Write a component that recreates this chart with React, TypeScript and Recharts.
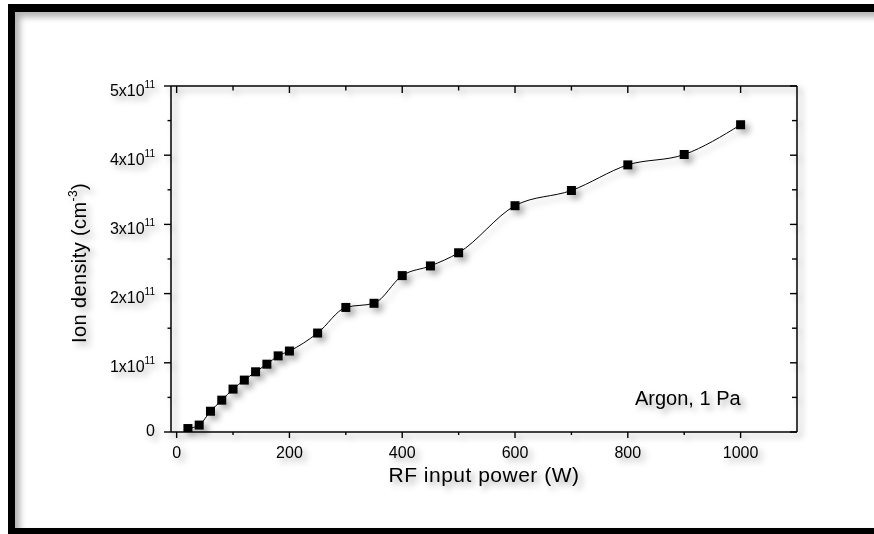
import React from 'react';
import { Line, LineChart, XAxis, YAxis } from 'recharts';

// RF input power (W)
const powerW = [20, 40, 60, 80, 100, 120, 140, 160, 180, 200, 250, 300, 350, 400, 450, 500, 600, 700, 800, 900, 1000];
// ion density, in units of 1x10^11 cm^-3
const ionDensity = [0.05, 0.1, 0.3, 0.46, 0.62, 0.75, 0.87, 0.98, 1.1, 1.17, 1.43, 1.8, 1.86, 2.26, 2.4, 2.59, 3.27, 3.49, 3.86, 4.01, 4.44];

const xTicks = [0, 100, 200, 300, 400, 500, 600, 700, 800, 900, 1000];
const yTicks = [0, 0.5, 1, 1.5, 2, 2.5, 3, 3.5, 4, 4.5, 5];

const FONT = 'Arial, "Liberation Sans", sans-serif';

const data = powerW.map((p, i) => ({ power: p, density: ionDensity[i] }));

const isMajorX = (v: number) => v % 200 === 0;
const isMajorY = (v: number) => Number.isInteger(v);

const BottomTick = (props: any) => {
  const { x, y, payload } = props;
  const major = isMajorX(payload.value);
  return (
    <g>
      <line x1={x} x2={x} y1={y} y2={y + (major ? 6 : 3)} stroke='#000' strokeWidth={1.4} />
      {major && (
        <text x={x} y={y + 26} textAnchor='middle' fontSize={16} fontFamily={FONT} fill='#000'>
          {payload.value}
        </text>
      )}
    </g>
  );
};

const TopTick = (props: any) => {
  const { x, y, payload } = props;
  const major = isMajorX(payload.value);
  return <line x1={x} x2={x} y1={y} y2={y + (major ? 7 : 4.5)} stroke='#000' strokeWidth={1.4} />;
};

const LeftTick = (props: any) => {
  const { x, y, payload } = props;
  const v = payload.value;
  const major = isMajorY(v);
  return (
    <g>
      <line x1={x} x2={x - (major ? 7 : 3.5)} y1={y} y2={y} stroke='#000' strokeWidth={1.4} />
      {major &&
        (v === 0 ? (
          <text x={x - 16} y={y + 4} textAnchor='end' fontSize={16} fontFamily={FONT} fill='#000'>
            0
          </text>
        ) : (
          <text x={x - 16} y={y + 9.5} textAnchor='end' fontSize={16} fontFamily={FONT} fill='#000'>
            {`${v}x10`}
            <tspan dy={-8} fontSize={10}>
              11
            </tspan>
          </text>
        ))}
    </g>
  );
};

const RightTick = (props: any) => {
  const { x, y, payload } = props;
  const major = isMajorY(payload.value);
  return <line x1={x} x2={x - (major ? 7 : 5)} y1={y} y2={y} stroke='#000' strokeWidth={1.4} />;
};

const SquareDot = (props: any) => {
  const { cx, cy, index } = props;
  if (cx == null || cy == null) return null;
  return <rect key={index} x={cx - 4.5} y={cy - 4.5} width={9} height={9} fill='#000' />;
};

const XLabel = (props: any) => {
  const { viewBox } = props;
  return (
    <text
      x={viewBox.x + viewBox.width / 2}
      y={viewBox.y + 50}
      textAnchor='middle'
      fontSize={21}
      letterSpacing={0.5}
      fontFamily={FONT}
      fill='#000'
    >
      RF input power (W)
    </text>
  );
};

const YLabel = (props: any) => {
  const { viewBox } = props;
  const x = viewBox.x + 5;
  const y = viewBox.y + viewBox.height / 2 + 4;
  return (
    <text
      x={x}
      y={y}
      transform={`rotate(-90, ${x}, ${y})`}
      textAnchor='middle'
      fontSize={20}
      letterSpacing={0.4}
      fontFamily={FONT}
      fill='#000'
    >
      Ion density (cm
      <tspan dy={-9} fontSize={12}>
        -3
      </tspan>
      <tspan dy={9}>)</tspan>
    </text>
  );
};

const App = () => {
  return (
    <div
      style={{
        position: 'absolute',
        left: 0,
        top: 0,
        width: 874,
        height: 534,
        overflow: 'hidden',
        background: '#fff',
      }}
    >
      <div
        style={{
          position: 'absolute',
          left: 8,
          top: 4,
          width: 900,
          height: 531,
          boxSizing: 'border-box',
          borderTop: '8px solid #000',
          borderLeft: '7px solid #000',
          borderBottom: '7px solid #000',
          boxShadow: 'inset 5px 5px 6px rgba(0,0,0,0.3)',
        }}
      />
      <div
        style={{
          position: 'absolute',
          left: 0,
          top: 0,
          width: 874,
          height: 534,
          filter: 'drop-shadow(4px 4px 3px rgba(0,0,0,0.35))',
        }}
      >
        <LineChart
          width={874}
          height={534}
          data={data}
          margin={{ top: 85, right: 76, bottom: 52, left: 81 }}
        >
          <XAxis
            dataKey='power'
            type='number'
            domain={[-10, 1100]}
            ticks={xTicks}
            interval={0}
            height={50}
            tickSize={0}
            tickMargin={0}
            tickLine={false}
            axisLine={{ stroke: '#000', strokeWidth: 1.5 }}
            tick={<BottomTick />}
            label={<XLabel />}
            allowDataOverflow
          />
          <XAxis
            xAxisId='top'
            orientation='top'
            dataKey='power'
            type='number'
            domain={[-10, 1100]}
            ticks={xTicks}
            interval={0}
            height={1}
            tickSize={0}
            tickMargin={0}
            tickLine={false}
            axisLine={{ stroke: '#000', strokeWidth: 1.5 }}
            tick={<TopTick />}
            allowDataOverflow
          />
          <YAxis
            type='number'
            domain={[0, 5]}
            ticks={yTicks}
            interval={0}
            width={90}
            tickSize={0}
            tickMargin={0}
            tickLine={false}
            axisLine={{ stroke: '#000', strokeWidth: 1.5 }}
            tick={<LeftTick />}
            label={<YLabel />}
            allowDataOverflow
          />
          <YAxis
            yAxisId='right'
            orientation='right'
            type='number'
            domain={[0, 5]}
            ticks={yTicks}
            interval={0}
            width={1}
            tickSize={0}
            tickMargin={0}
            tickLine={false}
            axisLine={{ stroke: '#000', strokeWidth: 1.5 }}
            tick={<RightTick />}
            allowDataOverflow
          />
          {/* invisible series so the mirror axes (top / right) are drawn */}
          <Line
            xAxisId='top'
            yAxisId='right'
            dataKey='density'
            stroke='none'
            dot={false}
            activeDot={false}
            legendType='none'
            isAnimationActive={false}
          />
          <Line
            dataKey='density'
            type='monotone'
            stroke='#000'
            strokeWidth={1}
            dot={<SquareDot />}
            activeDot={false}
            isAnimationActive={false}
          />
        </LineChart>
        <div
          style={{
            position: 'absolute',
            left: 635,
            top: 386,
            fontFamily: FONT,
            fontSize: 20,
            lineHeight: '24px',
            color: '#000',
            whiteSpace: 'nowrap',
          }}
        >
          Argon, 1 Pa
        </div>
      </div>
    </div>
  );
};

export default App;
